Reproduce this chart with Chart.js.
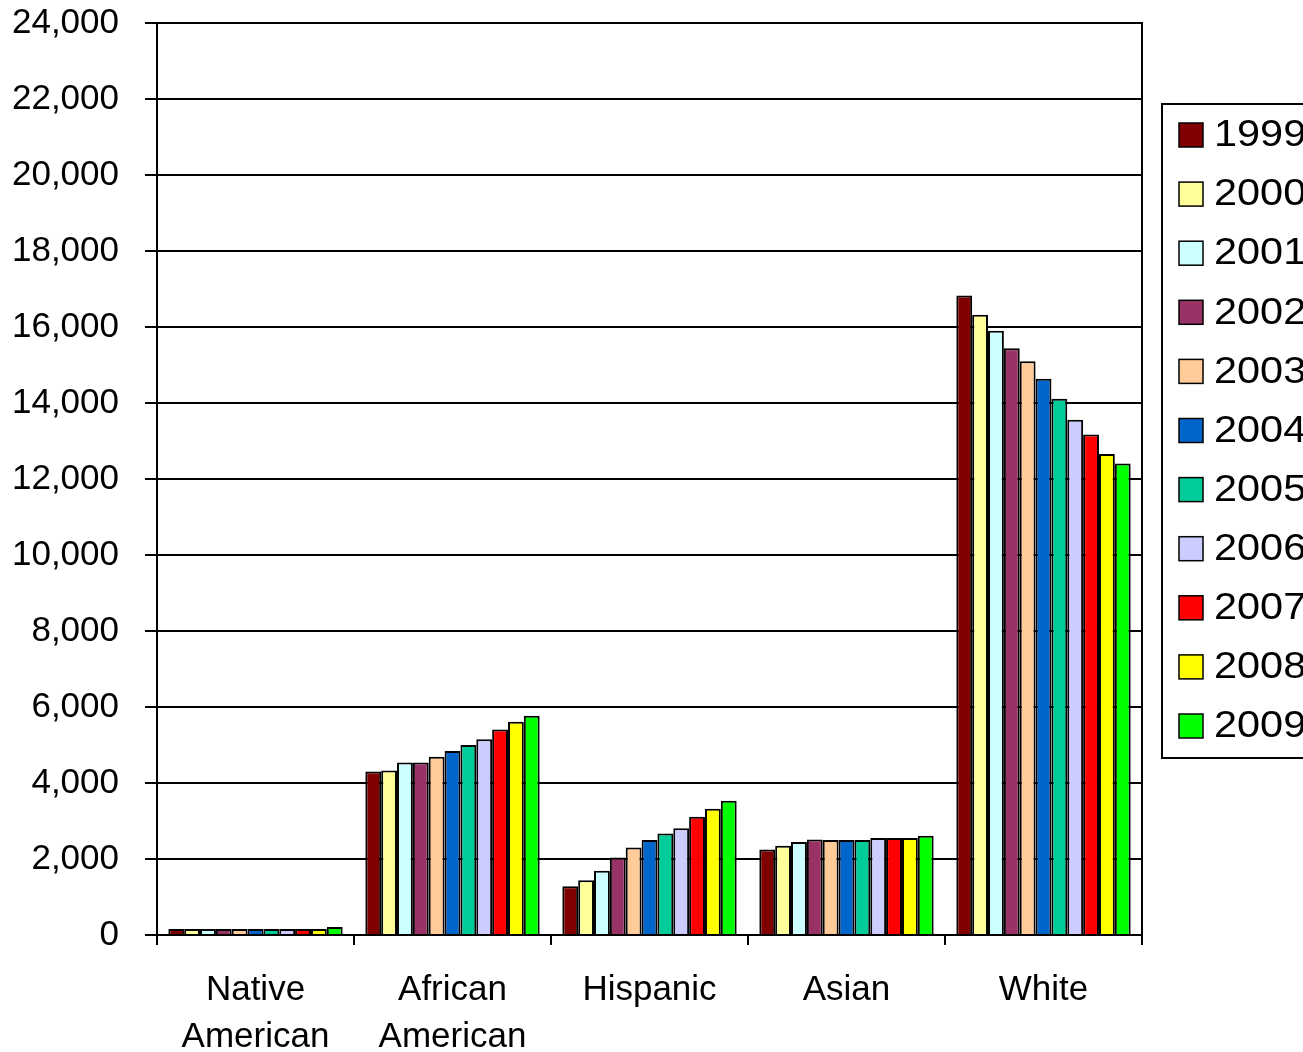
<!DOCTYPE html>
<html>
<head>
<meta charset="utf-8">
<script src="https://cdn.jsdelivr.net/npm/chart.js@4.4.1/dist/chart.umd.min.js"></script>
<style>
  html, body { margin: 0; padding: 0; background: #fff; overflow: hidden; }
  #wrap { width: 1303px; height: 1052px; }
</style>
</head>
<body>
<div id="wrap"><canvas id="enrollChart" width="1303" height="1052"></canvas></div>
<script>
const groups = [["Native", "American"], ["African", "American"], "Hispanic", "Asian", "White"];
const years = ["1999", "2000", "2001", "2002", "2003", "2004", "2005", "2006", "2007", "2008", "2009"];
const colors = ["#800000", "#FFFF99", "#CCFFFF", "#993366", "#FFCC99", "#0066CC",
                "#00CC99", "#CCCCFF", "#FF0000", "#FFFF00", "#00FF00"];

// values per year: [Native American, African American, Hispanic, Asian, White]
const v1999 = [160, 4300, 1280, 2250, 16830];
const v2000 = [160, 4330, 1440, 2350, 16320];
const v2001 = [160, 4540, 1690, 2450, 15900];
const v2002 = [160, 4540, 2040, 2510, 15440];
const v2003 = [160, 4690, 2300, 2500, 15100];
const v2004 = [160, 4840, 2500, 2500, 14640];
const v2005 = [160, 5000, 2670, 2500, 14110];
const v2006 = [160, 5150, 2810, 2550, 13560];
const v2007 = [160, 5410, 3110, 2550, 13170];
const v2008 = [160, 5610, 3320, 2550, 12660];
const v2009 = [210, 5770, 3530, 2610, 12410];
const series = [v1999, v2000, v2001, v2002, v2003, v2004, v2005, v2006, v2007, v2008, v2009];

const yTicks = { min: 0, max: 24000, step: 2000 };

const FONT = "'Liberation Sans', Arial, sans-serif";

const plotFrame = {
  id: 'plotFrame',
  afterDraw(chart) {
    const a = chart.chartArea;
    const c = chart.ctx;
    c.save();
    c.strokeStyle = '#000';
    c.lineWidth = 2;
    c.strokeRect(a.left, a.top, a.right - a.left, a.bottom - a.top);
    c.restore();
  }
};

// boxed legend on the right, runs off the edge like the original
const boxLegend = {
  id: 'boxLegend',
  afterDraw(chart) {
    const c = chart.ctx;
    const sets = chart.data.datasets;
    const left = chart.chartArea.right + 20;
    const top = 104;
    const step = 59.1;
    c.save();
    c.fillStyle = '#fff';
    c.strokeStyle = '#000';
    c.lineWidth = 2;
    c.fillRect(left, top, 200, 654);
    c.strokeRect(left, top, 200, 654);
    sets.forEach((ds, i) => {
      const cy = top + 31 + i * step;
      c.fillStyle = ds.backgroundColor;
      c.fillRect(left + 17, cy - 12, 24, 24);
      c.lineWidth = 1.5;
      c.strokeRect(left + 17, cy - 12, 24, 24);
      c.save();
      c.translate(left + 52, cy);
      c.scale(1.12, 1);
      c.fillStyle = '#000';
      c.font = '37px ' + FONT;
      c.textBaseline = 'middle';
      c.textAlign = 'left';
      c.fillText(ds.label, 0, 1);
      c.restore();
    });
    c.restore();
  }
};

const ctx = document.getElementById('enrollChart').getContext('2d');
const chart = new Chart(ctx, {
  type: 'bar',
  data: {
    labels: groups,
    datasets: years.map((y, i) => ({
      label: y,
      data: series[i],
      backgroundColor: colors[i],
      borderColor: '#000',
      borderWidth: 2,
      barPercentage: 1,
      categoryPercentage: 0.885
    }))
  },
  options: {
    responsive: false,
    animation: false,
    layout: { padding: { top: 23, right: 161, bottom: 0, left: 0 } },
    plugins: {
      legend: { display: false },
      tooltip: { enabled: false }
    },
    scales: {
      x: {
        offset: true,
        grid: { drawOnChartArea: false, color: '#000', lineWidth: 2, tickLength: 10 },
        border: { color: '#000', width: 2 },
        ticks: {
          color: '#000',
          padding: 22,
          maxRotation: 0,
          autoSkip: false,
          font: { family: FONT, size: 35, lineHeight: 1.34 }
        },
        afterFit(scale) {
          scale.height = 117;
          scale.paddingLeft = 0;
          scale.paddingRight = 0;
        }
      },
      y: {
        min: yTicks.min,
        max: yTicks.max,
        grid: { color: '#000', lineWidth: 2, tickLength: 12 },
        border: { color: '#000', width: 2 },
        ticks: {
          stepSize: yTicks.step,
          color: '#000',
          padding: 26,
          font: { family: FONT, size: 35 },
          callback: v => v.toLocaleString('en-US')
        },
        afterFit(scale) {
          scale.width = 157;
          scale.paddingTop = 0;
          scale.paddingBottom = 0;
        }
      }
    }
  },
  plugins: [plotFrame, boxLegend]
});
</script>
</body>
</html>
